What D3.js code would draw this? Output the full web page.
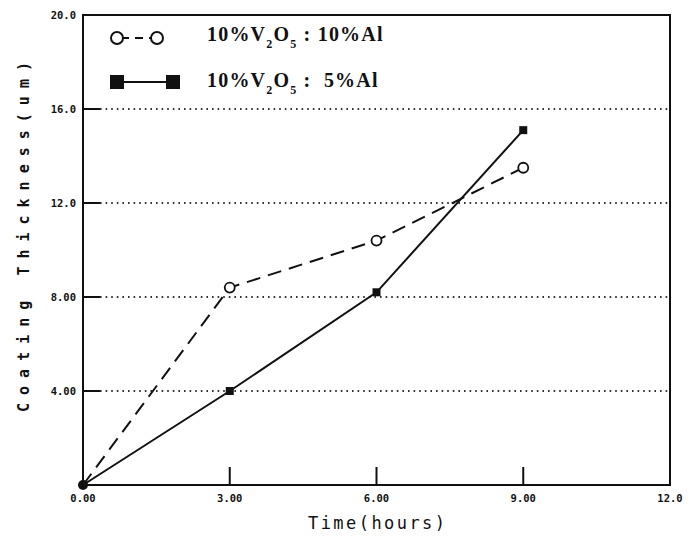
<!DOCTYPE html>
<html>
<head>
<meta charset="utf-8">
<script src="https://cdn.jsdelivr.net/npm/d3@7"></script>
<style>
body{margin:0;background:#fff;}
svg{display:block;}
.tick-lbl{font-family:"DejaVu Sans Mono",monospace;font-weight:bold;font-size:10.5px;fill:#111;}
.ax-title{font-family:"DejaVu Sans Mono",monospace;font-size:15px;fill:#111;font-weight:bold;}
.leg-txt{font-family:"Liberation Serif","Times New Roman",serif;font-weight:bold;font-size:20px;fill:#111;letter-spacing:1.2px;}
</style>
</head>
<body>
<div id="chart"></div>
<script>
// data
const hours=[0,3,6,9];
const al10=[0,8.4,10.4,13.5];   // 10%V2O5 : 10%Al  (open circles, dashed)
const al5=[0,4.0,8.2,15.1];     // 10%V2O5 : 5%Al   (filled squares, solid)
const xTicks=[0,3,6,9,12];
const xTickLabels=['0.00','3.00','6.00','9.00','12.0'];
const yTicks=[4,8,12,16,20];
const yTickLabels=['4.00','8.00','12.0','16.0','20.0'];
const gridLevels=[4,8,12,16];

const margin={top:15,right:18,bottom:53,left:83},
      W=688-margin.left-margin.right,
      H=538-margin.top-margin.bottom;

const svg=d3.select('#chart').append('svg')
  .attr('width',688).attr('height',538);
const g=svg.append('g').attr('transform',`translate(${margin.left},${margin.top})`);

const x=d3.scaleLinear().domain([0,12]).range([0,W]),
      y=d3.scaleLinear().domain([0,20]).range([H,0]);

// dotted grid with solid stubs on the left
g.selectAll('.grid').data(gridLevels).enter().append('line')
  .attr('x1',17).attr('x2',W).attr('y1',d=>y(d)).attr('y2',d=>y(d))
  .attr('stroke','#333').attr('stroke-width',2).attr('stroke-dasharray','1.6,4');
g.selectAll('.stub').data(gridLevels).enter().append('line')
  .attr('x1',0).attr('x2',17).attr('y1',d=>y(d)).attr('y2',d=>y(d))
  .attr('stroke','#111').attr('stroke-width',2);

// x ticks pointing up
g.selectAll('.xt').data(xTicks.slice(1,4)).enter().append('line')
  .attr('x1',d=>x(d)).attr('x2',d=>x(d)).attr('y1',H).attr('y2',H-18)
  .attr('stroke','#111').attr('stroke-width',2);

// frame
g.append('rect').attr('x',0).attr('y',0).attr('width',W).attr('height',H)
  .attr('fill','none').attr('stroke','#111').attr('stroke-width',2);

// tick labels
g.selectAll('.xl').data(xTicks).enter().append('text')
  .attr('class','tick-lbl').attr('x',d=>x(d)).attr('y',H+17)
  .attr('text-anchor','middle').text((d,i)=>xTickLabels[i]);
g.selectAll('.yl').data(yTicks).enter().append('text')
  .attr('class','tick-lbl').attr('x',-7).attr('y',d=>y(d)+4)
  .attr('text-anchor','end').text((d,i)=>yTickLabels[i]);

// axis titles
g.append('text').attr('class','ax-title')
  .attr('x',x(6)).attr('y',H+44).attr('text-anchor','middle')
  .attr('textLength',137).attr('lengthAdjust','spacing')
  .style('font-size','17px').style('font-weight','normal').text('Time(hours)');
g.append('text').attr('class','ax-title')
  .attr('transform',`translate(${24-margin.left},${237-margin.top}) rotate(-90)`)
  .attr('text-anchor','middle').attr('dy','0.35em')
  .attr('textLength',350).attr('lengthAdjust','spacing')
  .text('Coating  Thickness(um)');

// series
const line=d3.line().x(d=>x(d[0])).y(d=>y(d[1]));
const s10=hours.map((h,i)=>[h,al10[i]]),
      s5=hours.map((h,i)=>[h,al5[i]]);

g.append('path').datum(s10).attr('d',line).attr('fill','none')
  .attr('stroke','#111').attr('stroke-width',2).attr('stroke-dasharray','14,8');
g.append('path').datum(s5).attr('d',line).attr('fill','none')
  .attr('stroke','#111').attr('stroke-width',2);

g.selectAll('.sq').data(s5.slice(1)).enter().append('rect')
  .attr('x',d=>x(d[0])-4).attr('y',d=>y(d[1])-4).attr('width',8).attr('height',8)
  .attr('fill','#111');
g.selectAll('.ci').data(s10.slice(1)).enter().append('circle')
  .attr('cx',d=>x(d[0])).attr('cy',d=>y(d[1])).attr('r',5)
  .attr('fill','#fff').attr('stroke','#111').attr('stroke-width',1.8);
g.append('circle').attr('cx',x(0)).attr('cy',y(0)).attr('r',5).attr('fill','#111');

// legend
const leg=svg.append('g');
leg.append('line').attr('x1',117).attr('x2',157).attr('y1',38).attr('y2',38)
  .attr('stroke','#111').attr('stroke-width',2).attr('stroke-dasharray','8,6').attr('stroke-dashoffset',-4);
[117,157].forEach(cx=>leg.append('circle').attr('cx',cx).attr('cy',38).attr('r',6)
  .attr('fill','#fff').attr('stroke','#111').attr('stroke-width',2));
leg.append('line').attr('x1',117).attr('x2',173).attr('y1',82).attr('y2',82)
  .attr('stroke','#111').attr('stroke-width',2);
[117,173].forEach(cx=>leg.append('rect').attr('x',cx-7).attr('y',75).attr('width',14).attr('height',14)
  .attr('fill','#111'));

function legText(yb,parts){
  const t=leg.append('text').attr('class','leg-txt').attr('x',207).attr('y',yb)
    .style('white-space','pre');
  parts.forEach(p=>{
    const ts=t.append('tspan').text(p[0]);
    if(p[1]){ts.attr('dy',7).style('font-size','12px');}
    else if(p[2]){ts.attr('dy',-7);}
  });
}
legText(41,[['10%V'],['2',1],['O',0,1],['5',1],[' : 10%Al',0,1]]);
legText(87,[['10%V'],['2',1],['O',0,1],['5',1],[' :  5%Al',0,1]]);
</script>
</body>
</html>
